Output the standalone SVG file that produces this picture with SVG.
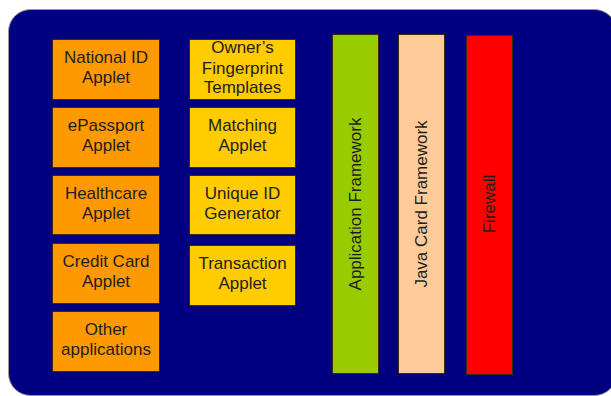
<svg xmlns="http://www.w3.org/2000/svg" width="611" height="396" viewBox="0 0 611 396">
  <style>
    .box { stroke: #3a2a10; stroke-width: 1; }
    .app { fill: #ff9900; }
    .bio { fill: #ffcc00; }
    .lbl { font-family: "Liberation Sans", Arial, sans-serif; font-size: 17px; fill: #1e1e1e; text-anchor: middle; }
  </style>
  <rect width="611" height="396" fill="#ffffff"/>
  <!-- card body -->
  <rect id="card" x="8.5" y="9.5" width="608" height="386" rx="22" ry="22" fill="#000080" stroke="#9a9a9a" stroke-width="1"/>

  <!-- applications column -->
  <g id="national-id">
    <rect class="box app" x="52.5" y="39.5" width="107" height="60"/>
    <text class="lbl" x="106" y="63">National ID</text>
    <text class="lbl" x="106" y="83">Applet</text>
  </g>
  <g id="epassport">
    <rect class="box app" x="52.5" y="107.5" width="107" height="60"/>
    <text class="lbl" x="106" y="131">ePassport</text>
    <text class="lbl" x="106" y="151">Applet</text>
  </g>
  <g id="healthcare">
    <rect class="box app" x="52.5" y="175.5" width="107" height="59"/>
    <text class="lbl" x="106" y="199">Healthcare</text>
    <text class="lbl" x="106" y="219">Applet</text>
  </g>
  <g id="credit-card">
    <rect class="box app" x="52.5" y="243.5" width="107" height="60"/>
    <text class="lbl" x="106" y="267">Credit Card</text>
    <text class="lbl" x="106" y="287">Applet</text>
  </g>
  <g id="other-apps">
    <rect class="box app" x="52.5" y="311.5" width="107" height="60"/>
    <text class="lbl" x="106" y="335">Other</text>
    <text class="lbl" x="106" y="355">applications</text>
  </g>

  <!-- biometric column -->
  <g id="fingerprint-templates">
    <rect class="box bio" x="189.5" y="39.5" width="106" height="60"/>
    <text class="lbl" x="242.5" y="53">Owner’s</text>
    <text class="lbl" x="242.5" y="73.5">Fingerprint</text>
    <text class="lbl" x="242.5" y="93">Templates</text>
  </g>
  <g id="matching">
    <rect class="box bio" x="189.5" y="107.5" width="106" height="60"/>
    <text class="lbl" x="242.5" y="131">Matching</text>
    <text class="lbl" x="242.5" y="151">Applet</text>
  </g>
  <g id="unique-id">
    <rect class="box bio" x="189.5" y="175.5" width="106" height="59"/>
    <text class="lbl" x="242.5" y="199">Unique ID</text>
    <text class="lbl" x="242.5" y="219">Generator</text>
  </g>
  <g id="transaction">
    <rect class="box bio" x="189.5" y="245.5" width="106" height="60"/>
    <text class="lbl" x="242.5" y="269">Transaction</text>
    <text class="lbl" x="242.5" y="289">Applet</text>
  </g>

  <!-- platform layers -->
  <g id="application-framework">
    <rect class="box" x="332.5" y="34.5" width="46" height="339" fill="#99cc00"/>
    <text class="lbl" transform="translate(361,204) rotate(-90)" x="0" y="0">Application Framework</text>
  </g>
  <g id="java-card-framework">
    <rect class="box" x="398.5" y="34.5" width="46" height="339" fill="#ffcc99"/>
    <text class="lbl" transform="translate(427,204) rotate(-90)" x="0" y="0">Java Card Framework</text>
  </g>
  <g id="firewall">
    <rect class="box" x="466.5" y="35.5" width="46" height="339" fill="#ff0000"/>
    <text class="lbl" transform="translate(495,204) rotate(-90)" x="0" y="0">Firewall</text>
  </g>

  <g id="connectors"></g>
</svg>
